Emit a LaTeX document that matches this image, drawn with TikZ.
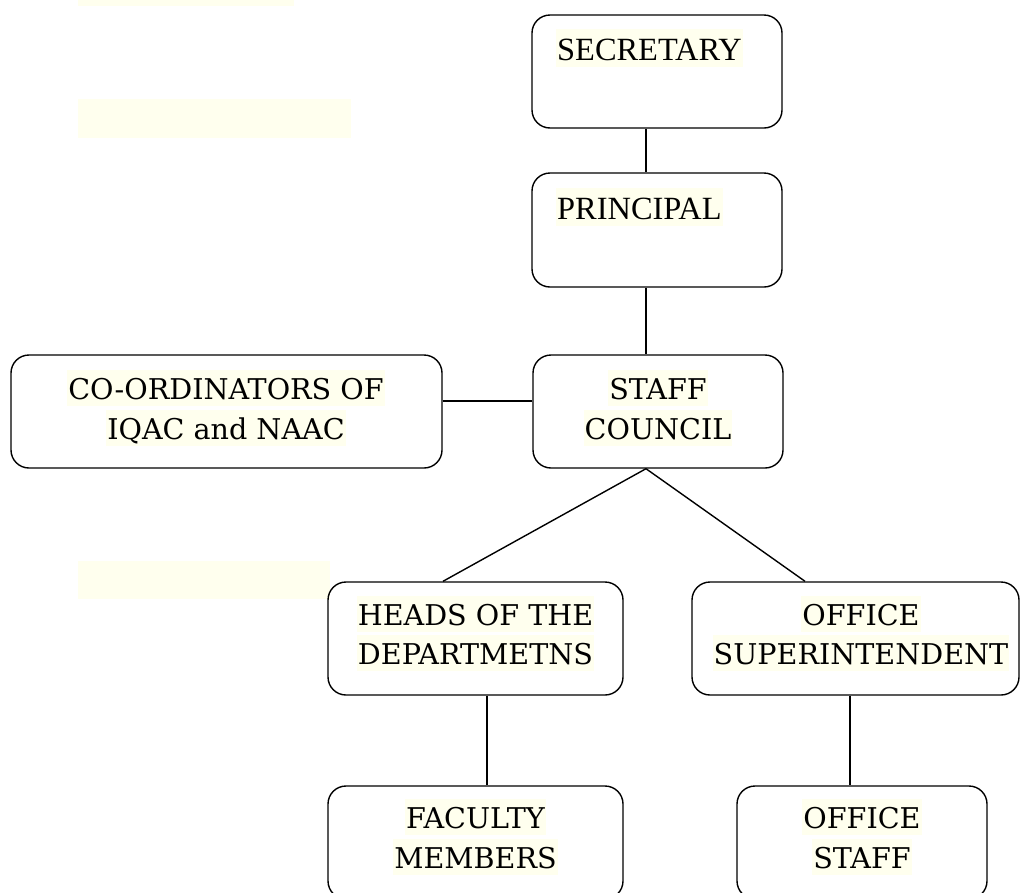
\documentclass[tikz,border=0pt]{standalone}
\usepackage{fontspec}
\setmainfont{DejaVu Serif}
\newfontfamily\timesfont{Liberation Serif}
\definecolor{hl}{RGB}{255,255,238}
\begin{document}
\begin{tikzpicture}[x=1pt,y=-1pt,
  orgbox/.style={draw=black, line width=1.4pt, rounded corners=18pt, minimum width=#1, minimum height=113pt, inner sep=0pt},
  hltext/.style={fill=hl, inner xsep=1pt, inner ysep=0pt, text height=29pt, text depth=7pt, anchor=base, font=\fontsize{28.6}{34}\selectfont},
  hltimes/.style={fill=hl, inner xsep=1pt, inner ysep=0pt, text height=31pt, text depth=7pt, anchor=base west, font=\timesfont\fontsize{32.4}{36}\selectfont},
  link/.style={line width=1.4pt, draw=black}]
\useasboundingbox (0,0) rectangle (1020,892);
\fill[white] (0,0) rectangle (1020,892);
% empty highlight strips
\fill[hl] (78,0) rectangle (294,6);
\fill[hl] (78,99) rectangle (351,138);
\fill[hl] (78,561) rectangle (330,599);
% boxes
\node[orgbox=250pt] (sec) at (657,71.5) {};
\node[orgbox=250pt, minimum height=114pt] (pri) at (657,230) {};
\node[orgbox=250pt] (staff) at (658,411.5) {};
\node[orgbox=431pt] (coord) at (226.5,411.5) {};
\node[orgbox=295pt] (heads) at (475.5,638.5) {};
\node[orgbox=327pt] (off) at (855.5,638.5) {};
\node[orgbox=295pt] (fac) at (475.5,842.5) {};
\node[orgbox=250pt] (ost) at (862,842.5) {};
% texts
\node[hltimes] (secT) at (556,60) {SECRETARY};
\node[hltimes] (priT) at (556,219) {PRINCIPAL};
\node[hltext] (staffA) at (658,399) {STAFF};
\node[hltext] (staffB) at (658,439) {COUNCIL};
\node[hltext] (coordA) at (226,399) {CO-ORDINATORS OF};
\node[hltext] (coordB) at (226,439) {IQAC and NAAC};
\node[hltext] (headsA) at (475.5,625) {HEADS OF THE};
\node[hltext] (headsB) at (475.5,664) {DEPARTMETNS};
\node[hltext] (offA) at (861,625) {OFFICE};
\node[hltext] (offB) at (861,664) {SUPERINTENDENT};
\node[hltext] (facA) at (475.5,828) {FACULTY};
\node[hltext] (facB) at (475.5,868) {MEMBERS};
\node[hltext] (ostA) at (862,828) {OFFICE};
\node[hltext] (ostB) at (862,868) {STAFF};
% connectors
\draw[link] ([xshift=-11pt]sec.south) -- ([xshift=-11pt]pri.north);
\draw[link] ([xshift=-11pt]pri.south) -- ([xshift=-12pt]staff.north);
\draw[link] ([yshift=10.5pt]coord.east) -- ([yshift=10.5pt]staff.west);
\draw[link] ([xshift=-12pt]staff.south) -- ([xshift=-32.5pt]heads.north);
\draw[link] ([xshift=-12pt]staff.south) -- ([xshift=-50.5pt]off.north);
\draw[link] ([xshift=11.5pt]heads.south) -- ([xshift=11.5pt]fac.north);
\draw[link] ([xshift=-5.5pt]off.south) -- ([xshift=-12pt]ost.north);
\end{tikzpicture}
\end{document}
